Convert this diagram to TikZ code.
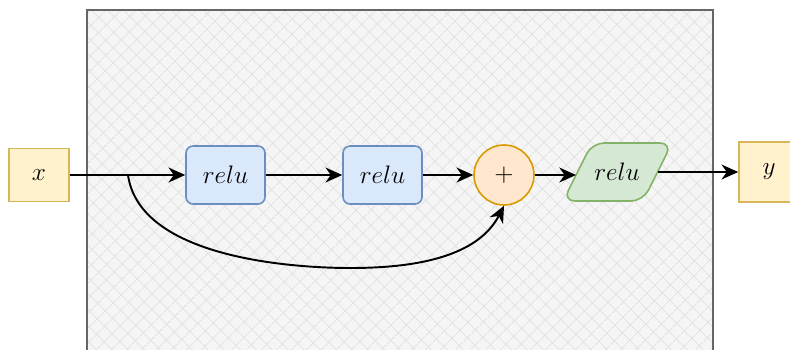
\documentclass[tikz,border=0pt]{standalone}
\usetikzlibrary{arrows.meta,patterns.meta}

\definecolor{iobg}{HTML}{FFF2CC}
\definecolor{ioline}{HTML}{D6B656}
\definecolor{relubg}{HTML}{DAE8FC}
\definecolor{reluline}{HTML}{6C8EBF}
\definecolor{addbg}{HTML}{FFE6CC}
\definecolor{addline}{HTML}{D79B00}
\definecolor{actbg}{HTML}{D5E8D4}
\definecolor{actline}{HTML}{82B366}
\definecolor{blockbg}{HTML}{F5F5F5}
\definecolor{blockline}{HTML}{666666}
\definecolor{hatchline}{HTML}{E2E2E2}

\begin{document}
\begin{tikzpicture}[x=0.02cm, y=-0.02cm,
    font=\fontsize{14.5}{17}\selectfont,
    >={Stealth[length=9.5pt,width=8.5pt,inset=3pt]},
    iobox/.style={draw=ioline, fill=iobg, line width=0.9pt, inner sep=0pt,
      minimum width=1.2cm, minimum height=1.06cm},
    relubox/.style={draw=reluline, fill=relubg, line width=0.9pt, inner sep=0pt,
      rounded corners=0.14cm, minimum width=1.58cm, minimum height=1.16cm},
    addcirc/.style={circle, draw=addline, fill=addbg, line width=0.9pt,
      inner sep=0pt, minimum size=1.2cm},
    link/.style={->, line width=1.1pt}]
  \useasboundingbox (0,0) rectangle (790,349);
  \clip (0,0) rectangle (790,349);

  % hatched block around the residual unit
  \fill[blockbg] (87,10) rectangle (713,370);
  \fill[pattern={Hatch[angle=45,distance=6.5pt,line width=0.5pt]}, pattern color=hatchline]
    (87,10) rectangle (713,370);
  \draw[blockline, line width=1.1pt] (87,10) rectangle (713,370);

  % nodes
  \node[iobox] (xin) at (39,175) {$x$};
  \node[relubox] (relu1) at (225.5,175) {$relu$};
  \node[relubox] (relu2) at (382.5,175) {$relu$};
  \node[addcirc] (plus) at (504,175) {$+$};
  % output activation, a slanted box
  \draw[actline, fill=actbg, line width=0.9pt, rounded corners=0.24cm]
    (563,201) -- (592,143) -- (672,143) -- (643,201) -- cycle;
  \node (act) at (617,172) {$relu$};
  \coordinate (actin) at (576,175);
  \coordinate (actout) at (657.5,172);
  \node[iobox, minimum height=1.19cm] (yout) at (769,172) {$y$};

  % main path
  \coordinate (split) at (128,175);
  \draw[link] (xin) -- (relu1);
  \draw[link] (relu1) -- (relu2);
  \draw[link] (relu2) -- (plus);
  \draw[link] (plus) -- (actin);
  \draw[link] (actout) -- (yout);

  % skip connection
  \draw[link] (split) .. controls (140,260) and (300,268) .. (350,268)
    .. controls (400,268) and (475,262) .. (plus.south);
\end{tikzpicture}
\end{document}
